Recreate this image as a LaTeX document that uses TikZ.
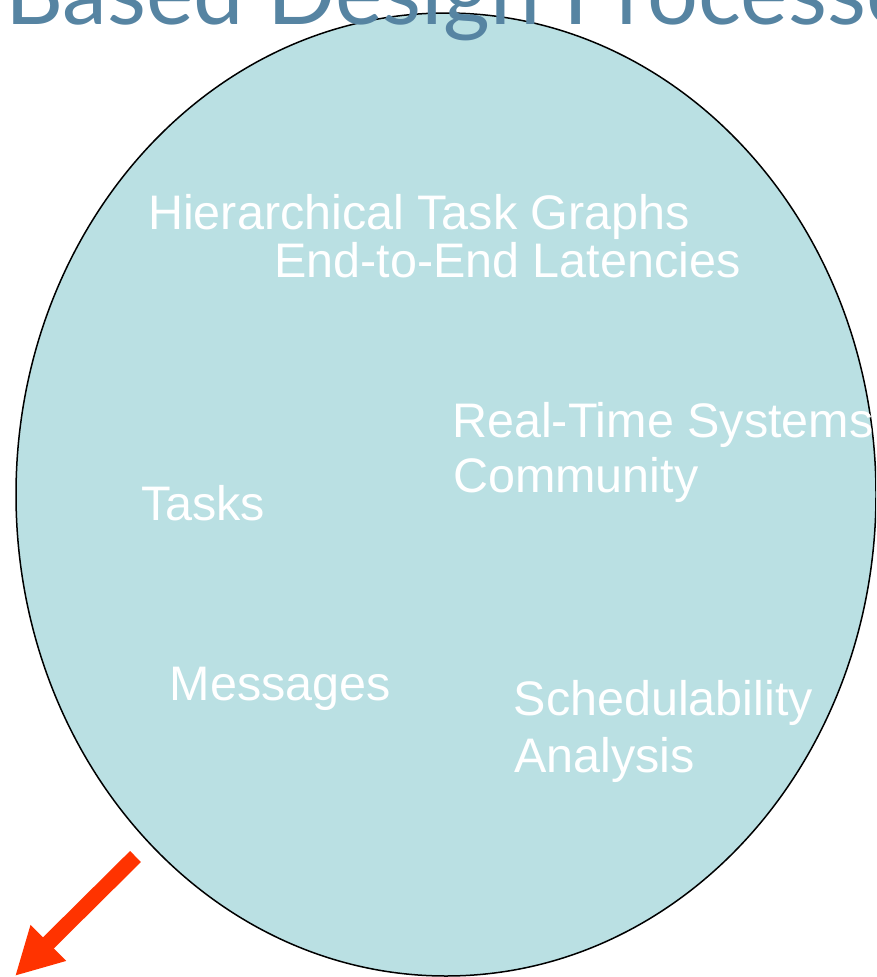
\documentclass[tikz,border=0pt]{standalone}
\usepackage{fontspec}
\setmainfont{Liberation Sans}
\newfontfamily\titlefont{Lato}
\usetikzlibrary{arrows.meta,shapes.geometric}
\definecolor{fillteal}{RGB}{186,224,227}
\definecolor{titleblue}{RGB}{86,132,162}
\definecolor{arrowred}{RGB}{255,51,0}
\begin{document}
\begin{tikzpicture}[x=1pt,y=-1pt,
  lbl/.style={anchor=base west,inner sep=0pt,text=white,font=\fontsize{48.5}{56}\selectfont},
  bigarrow/.style={draw=arrowred,line width=15.5pt,-{Triangle[length=47pt,width=47pt]}}]
\clip (0,0) rectangle (876,977);
\fill[white] (0,0) rectangle (876,977);
\node[ellipse,draw=black,line width=1.5pt,fill=fillteal,minimum width=860pt,minimum height=963pt,inner sep=0pt] (circ) at (446,494.5) {};
\node[anchor=base west,inner sep=0pt,text=titleblue,font=\titlefont\fontsize{90}{100}\selectfont] (title) at (5,24) {Based Design Processes};
\node[lbl] (htg) at (148,229) {Hierarchical Task Graphs};
\node[lbl] (e2e) at (274,277) {End-to-End Latencies};
\node[lbl] (rts) at (452,437) {Real-Time Systems};
\node[lbl] (com) at (453,492) {Community};
\node[lbl] (tasks) at (141,520) {Tasks};
\node[lbl] (msg) at (169.5,700) {Messages};
\node[lbl] (sch) at (513.5,715) {Schedulability};
\node[lbl] (ana) at (514,772) {Analysis};
\coordinate (arrS) at (135.5,856.5);
\coordinate (arrT) at (15,976);
\draw[bigarrow] (arrS) -- (arrT);
\end{tikzpicture}
\end{document}
